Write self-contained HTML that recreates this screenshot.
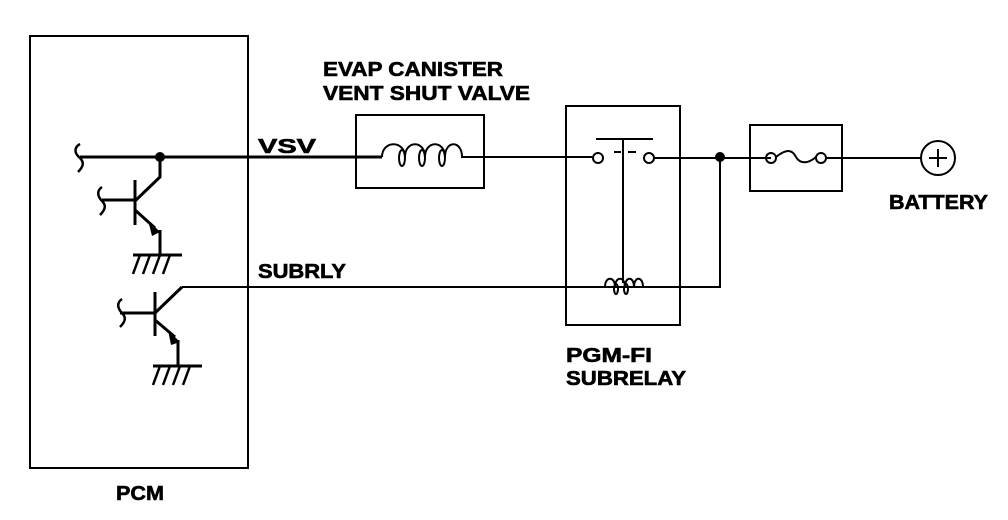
<!DOCTYPE html>
<html><head><style>body{margin:0;background:#fff}svg{display:block}text{font-family:"Liberation Sans",Arial,sans-serif;font-weight:bold;font-size:20px;fill:#000;stroke:#000;stroke-width:0.6}</style></head>
<body>
<svg width="1008" height="520" viewBox="0 0 1008 520" xmlns="http://www.w3.org/2000/svg">
<g fill="none" stroke="#000" stroke-width="2">
<rect x="30" y="36" width="218" height="432"/>
<rect x="356" y="115" width="128" height="73"/>
<rect x="566" y="106" width="114" height="219"/>
<rect x="750" y="125" width="92" height="66"/>
<circle cx="938" cy="158" r="17"/>
<path d="M929 158H947M938 149V167"/>
<path d="M182 287H720V157"/>
</g>
<g fill="none" stroke="#000" stroke-width="3">
<path d="M80 157H382"/>
<path d="M160 157V177L135 201"/>
<path d="M135 180V225"/>
<path d="M102 200H135"/>
<path d="M135 210L155 228M160 230V255"/>
<path d="M133 255H182"/>
<path d="M155 292V336"/>
<path d="M120 313H155L182 287"/>
<path d="M155 320L175 337M178 340V366"/>
<path d="M153 366H202"/>
</g>
<g fill="none" stroke="#000" stroke-width="2.5">
<path d="M140 255L133 274M150 255L143 274M160 255L153 274M170 255L163 274"/>
<path d="M160 366L153 385M170 366L163 385M180 366L173 385M190 366L183 385"/>
<path d="M80 144C73 148 75 154 80 158C84 162 84 166 78 172"/>
<path d="M102 187C96 191 98 197 102 201C106 205 106 209 100 215"/>
<path d="M122 299C116 303 118 309 122 313C126 317 126 321 120 327"/>
</g>
<polygon points="148,220 160,232 152,236" fill="#000"/>
<polygon points="168,330 180,342 171,345" fill="#000"/>
<g fill="none" stroke="#000" stroke-width="2">
<path d="M382 157C382 140 405 140 405 157M405 157C405 140 425 140 425 157M425 157C425 140 445 140 445 157M445 157C445 140 462 140 462 157H592"/>
<ellipse cx="402" cy="158" rx="3" ry="8"/><ellipse cx="422" cy="158" rx="3" ry="8"/><ellipse cx="442" cy="158" rx="3" ry="8"/>
<circle cx="598" cy="158" r="5"/><circle cx="649" cy="158" r="5"/>
<path d="M596 139H653M623 139V283M614 152H621M628 152H636M654 158H771"/>
<path d="M605 287C605 276 615 276 615 287C615 276 625 276 625 287C625 276 634 276 634 287C634 276 643 276 643 287"/>
<ellipse cx="616" cy="289" rx="2" ry="5"/><ellipse cx="626" cy="289" rx="2" ry="5"/>
<circle cx="771" cy="158" r="5"/><circle cx="821" cy="158" r="5"/>
<path d="M776 157C786 149 792 149 796 157C800 164 808 164 816 157M826 158H921"/>
</g>
<circle cx="160" cy="157" r="5" fill="#000"/>
<circle cx="720" cy="157" r="5" fill="#000"/>
<text x="323" y="76" textLength="180" lengthAdjust="spacingAndGlyphs">EVAP CANISTER</text>
<text x="323" y="100" textLength="207" lengthAdjust="spacingAndGlyphs">VENT SHUT VALVE</text>
<text x="258" y="153" textLength="58" lengthAdjust="spacingAndGlyphs">VSV</text>
<text x="258" y="278" textLength="88" lengthAdjust="spacingAndGlyphs">SUBRLY</text>
<text x="566" y="362" textLength="86" lengthAdjust="spacingAndGlyphs">PGM-FI</text>
<text x="566" y="385" textLength="120" lengthAdjust="spacingAndGlyphs">SUBRELAY</text>
<text x="889" y="209" textLength="99" lengthAdjust="spacingAndGlyphs">BATTERY</text>
<text x="116" y="500" textLength="48" lengthAdjust="spacingAndGlyphs">PCM</text>
</svg>
</body></html>
